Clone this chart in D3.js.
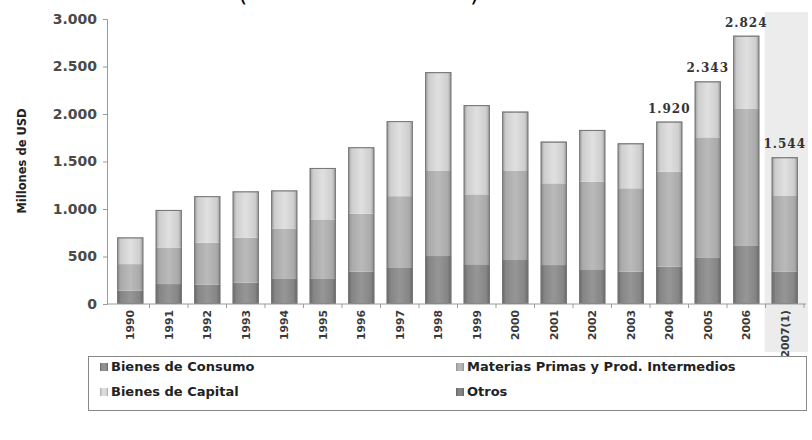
<!DOCTYPE html>
<html>
<head>
<meta charset="utf-8">
<script src="https://cdn.jsdelivr.net/npm/d3@7"></script>
<style>
  html, body { margin: 0; padding: 0; background: #fff; }
  svg { display: block; }
</style>
</head>
<body>
<svg id="chart" width="812" height="440"></svg>
<script>
// ---- data (Millones de USD) ----
const years = ["1990","1991","1992","1993","1994","1995","1996","1997","1998","1999","2000","2001","2002","2003","2004","2005","2006","2007(1)"];
const bienesConsumo   = [140, 210, 205, 225, 270, 270, 340, 386, 505, 418, 463, 410, 365, 340, 393, 491, 611, 340];
const materiasPrimas  = [280, 385, 440, 473, 525, 620, 610, 749, 895, 736, 937, 860, 923, 878, 1000, 1263, 1442, 797];
const bienesCapital   = [275, 390, 485, 482, 395, 537, 695, 785, 1032, 931, 617, 431, 536, 465, 519, 581, 763, 400];
const otros           = [5, 5, 5, 5, 5, 5, 5, 5, 8, 8, 8, 8, 8, 8, 8, 8, 8, 7];
const seriesNames = ["Bienes de Consumo", "Materias Primas y Prod. Intermedios", "Bienes de Capital", "Otros"];
const labeledYears = ["2004","2005","2006","2007(1)"];
const yTicks = [0, 500, 1000, 1500, 2000, 2500, 3000];
const yAxisTitle = "Millones de USD";

// ---- build table ----
const table = years.map((y, i) => ({
  year: y,
  "Bienes de Consumo": bienesConsumo[i],
  "Materias Primas y Prod. Intermedios": materiasPrimas[i],
  "Bienes de Capital": bienesCapital[i],
  "Otros": otros[i]
}));
const stacked = d3.stack().keys(seriesNames)(table);
const total = d => d3.sum(seriesNames, k => d[k]);

const svg = d3.select("#chart");
const SANS = '"DejaVu Sans", Verdana, sans-serif';
const locale = d3.formatLocale({decimal: ",", thousands: ".", grouping: [3], currency: ["", ""]});
const fmt = locale.format(",d");

const x = d3.scaleBand().domain(years).range([111, 804]).paddingInner(0.32).paddingOuter(0.16);
const y = d3.scaleLinear().domain([0, 3000]).range([304, 19]);

// gradients
const gradDefs = [
  {id: "g0", dark: "#646464", mid: "#858585", light: "#969696"},
  {id: "g1", dark: "#888888", mid: "#aaaaaa", light: "#bababa"},
  {id: "g2", dark: "#979797", mid: "#cecece", light: "#e0e0e0"},
  {id: "g3", dark: "#5e5e5e", mid: "#7a7a7a", light: "#888888"}
];
const defs = svg.append("defs");
gradDefs.forEach(g => {
  const lg = defs.append("linearGradient").attr("id", g.id).attr("x1", "0").attr("x2", "1").attr("y1", "0").attr("y2", "0");
  [[0, g.dark], [0.14, g.mid], [0.5, g.light], [0.86, g.mid], [1, g.dark]].forEach(([o, c]) =>
    lg.append("stop").attr("offset", o).attr("stop-color", c));
});

// shaded region for provisional year
const lastYear = years[years.length - 1];
svg.append("rect")
  .attr("x", x(lastYear) - 7).attr("y", 12)
  .attr("width", 812 - (x(lastYear) - 7) - 4).attr("height", 340)
  .attr("fill", "#ececec");

// clipped title remnants
[["(", 238], [")", 470]].forEach(([t, tx]) =>
  svg.append("text").attr("x", tx).attr("y", 1)
    .style("font-family", SANS).style("font-size", "24px").style("font-weight", "normal")
    .attr("fill", "#000").text(t));

// bars
const layer = svg.append("g").selectAll("g").data(stacked).join("g")
  .attr("fill", (d, i) => `url(#g${i})`);
layer.selectAll("rect").data(d => d).join("rect")
  .attr("x", d => x(d.data.year))
  .attr("width", x.bandwidth())
  .attr("y", d => y(d[1]))
  .attr("height", d => y(d[0]) - y(d[1]));

// outline of whole bar
svg.append("g").selectAll("rect").data(table).join("rect")
  .attr("x", d => x(d.year) + 0.5)
  .attr("width", x.bandwidth() - 1)
  .attr("y", d => y(total(d)) + 0.5)
  .attr("height", d => y(0) - y(total(d)) - 1)
  .attr("fill", "none").attr("stroke", "#767676").attr("stroke-width", 1);

// y axis
const yAxis = d3.axisLeft(y).tickValues(yTicks).tickFormat(fmt).tickSize(4).tickPadding(6);
const gy = svg.append("g").attr("transform", "translate(107,0)").call(yAxis);
gy.select(".domain").attr("stroke", "#9a9a9a");
gy.selectAll(".tick line").attr("stroke", "#9a9a9a");
gy.selectAll(".tick text").attr("fill", "#4a4a4a")
  .style("font-family", SANS).style("font-size", "14px").style("font-weight", "bold");

// x axis
const gx = svg.append("g").attr("transform", "translate(0,304)");
gx.append("line").attr("x1", 107).attr("x2", 806).attr("y1", 0).attr("y2", 0).attr("stroke", "#9a9a9a");
const step = x.step();
gx.selectAll("line.sep").data(years).join("line").attr("class", "sep")
  .attr("x1", d => x(d) + x.bandwidth() + (step - x.bandwidth()) / 2)
  .attr("x2", d => x(d) + x.bandwidth() + (step - x.bandwidth()) / 2)
  .attr("y1", 0).attr("y2", 4).attr("stroke", "#9a9a9a");
gx.selectAll("text").data(years).join("text")
  .attr("transform", d => `translate(${x(d) + x.bandwidth() / 2 + 4},6) rotate(-90)`)
  .attr("text-anchor", "end")
  .style("font-family", SANS).style("font-size", "10.8px").style("font-weight", "bold")
  .attr("fill", "#3a3a3a")
  .text(d => d);

// y axis title
svg.append("text")
  .attr("transform", "translate(26,161) rotate(-90)")
  .attr("text-anchor", "middle")
  .style("font-family", SANS).style("font-size", "11.5px").style("font-weight", "bold")
  .attr("fill", "#222")
  .text(yAxisTitle);

// value labels
svg.append("g").selectAll("text").data(table.filter(d => labeledYears.includes(d.year))).join("text")
  .attr("x", d => x(d.year) + x.bandwidth() / 2)
  .attr("y", d => y(total(d)) - 9)
  .attr("text-anchor", "middle")
  .style("font-family", '"DejaVu Serif", serif').style("font-size", "12px").style("font-weight", "bold")
  .style("letter-spacing", "1px")
  .attr("fill", "#333")
  .text(d => fmt(total(d)));

// legend
const lg = svg.append("g");
lg.append("rect").attr("x", 88.5).attr("y", 356.5).attr("width", 718).attr("height", 54)
  .attr("fill", "#fff").attr("stroke", "#888");
const legPos = [[100, 371], [456, 371], [100, 396], [456, 396]];
seriesNames.forEach((name, i) => {
  const [lx, ly] = legPos[i];
  lg.append("rect").attr("x", lx).attr("y", ly - 8).attr("width", 8).attr("height", 8)
    .attr("fill", `url(#g${i})`);
  lg.append("text").attr("x", lx + 11).attr("y", ly)
    .style("font-family", SANS).style("font-size", "13px").style("font-weight", "bold")
    .attr("fill", "#222").text(name);
});
</script>
</body>
</html>
